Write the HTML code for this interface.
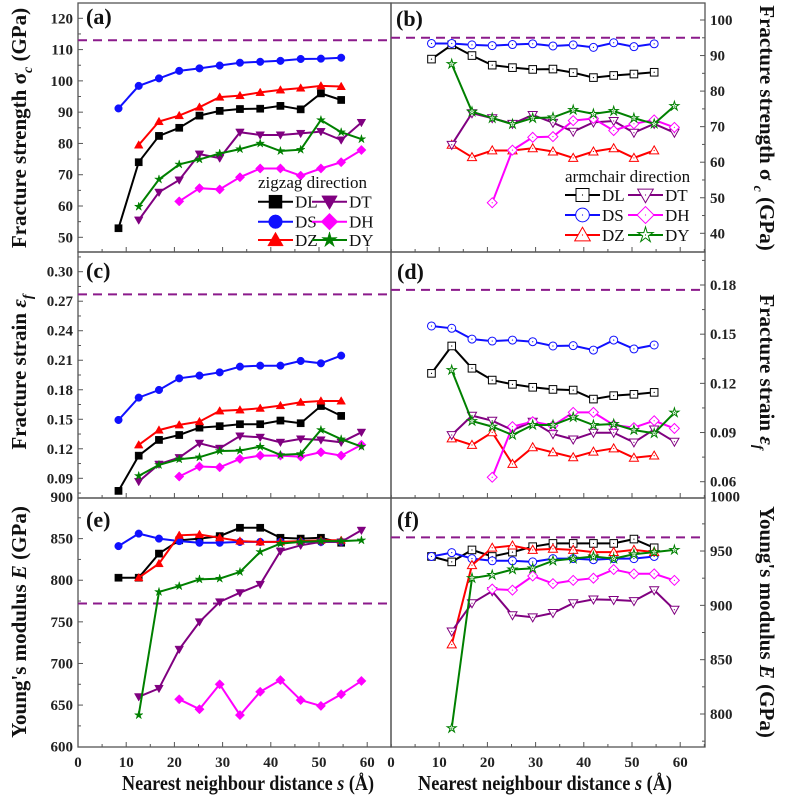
<!DOCTYPE html>
<html><head><meta charset="utf-8"><style>
html,body{margin:0;padding:0;background:#fff;}
svg{display:block;}
svg text{font-family:"Liberation Serif","Times New Roman",serif;}
.tk{font-family:"Liberation Serif",serif;font-weight:bold;font-size:15px;fill:#222;}
.tt{font-family:"Liberation Serif",serif;font-weight:bold;font-size:21px;fill:#111;}
.pl{font-family:"Liberation Serif",serif;font-weight:bold;font-size:22px;fill:#111;}
.lg{font-family:"Liberation Serif",serif;font-size:17px;fill:#111;}
</style></head><body>
<svg id="chart" width="787" height="801" viewBox="0 0 787 801" xmlns="http://www.w3.org/2000/svg" font-family="Liberation Serif, serif">
<g id="axes"></g>
<g id="marks"></g>
<g id="labels">
<text class="tt" transform="translate(26,128) rotate(-90)" text-anchor="middle">Fracture strength σ<tspan font-style="italic" font-size="14" dy="6">c</tspan><tspan dy="-6"> (GPa)</tspan></text>
<text class="tt" transform="translate(26,372) rotate(-90)" text-anchor="middle">Fracture strain <tspan font-style="italic">ε</tspan><tspan font-style="italic" font-size="14" dy="6">f</tspan></text>
<text class="tt" transform="translate(26,622) rotate(-90)" text-anchor="middle">Young's modulus <tspan font-style="italic">E</tspan> (GPa)</text>
<text class="tt" transform="translate(760,128) rotate(90)" text-anchor="middle">Fracture strength σ <tspan font-style="italic" font-size="14" dy="6">c</tspan><tspan dy="-6"> (GPa)</tspan></text>
<text class="tt" transform="translate(760,372) rotate(90)" text-anchor="middle">Fracture strain <tspan font-style="italic">ε</tspan><tspan font-style="italic" font-size="14" dy="6">f</tspan></text>
<text class="tt" transform="translate(760,622) rotate(90)" text-anchor="middle">Young's modulus <tspan font-style="italic">E</tspan> (GPa)</text>
<text class="tt" x="122" y="790" textLength="252" lengthAdjust="spacingAndGlyphs">Nearest neighbour distance <tspan font-style="italic">s</tspan> (Å)</text>
<text class="tt" x="418" y="790" textLength="254" lengthAdjust="spacingAndGlyphs">Nearest neighbour distance <tspan font-style="italic">s</tspan> (Å)</text>
<text class="pl" x="86" y="24">(a)</text>
<text class="pl" x="396" y="26">(b)</text>
<text class="pl" x="86" y="278">(c)</text>
<text class="pl" x="397" y="279">(d)</text>
<text class="pl" x="86" y="527">(e)</text>
<text class="pl" x="397" y="527">(f)</text>
<text class="lg" x="258" y="188">zigzag direction</text>
<text class="lg" x="565" y="182">armchair direction</text>
</g>
<g id="legend"></g>
</svg>
<script>
const sVals = [8.4,12.6,16.8,21,25.2,29.4,33.6,37.8,42,46.2,50.4,54.6,58.8];
const seriesNames = ["DL","DS","DZ","DT","DH","DY"];
const seriesColors = ["#000000","#1010ff","#ff0000","#800080","#ff00ff","#008000"];
const seriesShapes = ["square","circle","tri-up","tri-down","diamond","star"];
const _ = null;
// (a) zigzag fracture strength
const aDL=[52.9,74,82.4,85,88.9,90.4,91,91.1,92,90.9,96,93.9,_];
const aDS=[91.2,98.4,100.8,103.2,104,104.9,105.8,106.1,106.4,107,107.1,107.4,_];
const aDZ=[_,79.5,87,88.9,91.6,94.8,95.3,96.3,97.1,97.7,98.4,98.2,_];
const aDT=[_,55.5,64.4,68.3,76.6,75.3,83.6,82.7,82.7,83.2,83.8,81.1,86.7];
const aDH=[_,_,_,61.5,65.7,65.3,69.2,72,72,69.7,72,74,77.9];
const aDY=[_,59.8,68.5,73.3,74.9,76.8,78.2,80,77.6,78,87.5,83.6,81.4];
// (b) armchair fracture strength
const bDL=[89,93,90,87.3,86.6,86.1,86.2,85.2,83.8,84.4,84.8,85.3,_];
const bDS=[93.4,93.4,93,92.8,93.1,93.3,92.7,93,92.3,93.6,92.5,93.3,_];
const bDZ=[_,64.9,61.4,63.3,63.3,63.9,63,61.2,63,63.9,61.2,63.3,_];
const bDT=[_,64.9,73.8,72.4,70.8,73.3,71.1,68.6,71.2,71.6,68.3,70.8,68.3];
const bDH=[_,_,_,48.6,63.4,67,67.2,71.7,72.3,68.9,70.8,71.9,69.8];
const bDY=[_,87.6,74.2,72.4,70.7,72.4,72.6,74.7,73.6,74.4,72.4,70.8,75.8];
// (c) zigzag fracture strain
const cDL=[0.0772,0.113,0.129,0.134,0.1415,0.143,0.145,0.145,0.1487,0.146,0.1635,0.1534,_];
const cDS=[0.1493,0.172,0.1798,0.1916,0.1944,0.1977,0.2035,0.2045,0.2045,0.2093,0.2069,0.2147,_];
const cDZ=[_,0.124,0.139,0.1443,0.1476,0.1585,0.1595,0.1612,0.1639,0.1673,0.1686,0.1686,_];
const cDT=[_,0.0867,0.1043,0.111,0.1256,0.1205,0.133,0.1317,0.1266,0.13,0.129,0.1266,0.1368];
const cDH=[_,_,_,0.0918,0.102,0.1012,0.1097,0.1131,0.1131,0.112,0.1165,0.1131,0.124];
const cDY=[_,0.0924,0.1036,0.1094,0.1114,0.1178,0.1182,0.1222,0.1138,0.1148,0.1392,0.1297,0.1222];
// (d) armchair fracture strain
const dDL=[0.1261,0.1428,0.1292,0.122,0.1194,0.1176,0.1163,0.1159,0.1104,0.1125,0.1133,0.1145,_];
const dDS=[0.155,0.1536,0.147,0.1458,0.1464,0.1454,0.1428,0.143,0.1403,0.1464,0.141,0.1434,_];
const dDZ=[_,0.0864,0.0824,0.0901,0.0708,0.081,0.0779,0.0749,0.0783,0.0803,0.0746,0.0759,_];
const dDT=[_,0.0885,0.1003,0.0972,0.0915,0.0966,0.0891,0.0858,0.0899,0.0899,0.084,0.0919,0.0844];
const dDH=[_,_,_,0.0627,0.0936,0.0966,0.0942,0.1023,0.1023,0.0946,0.093,0.0972,0.0925];
const dDY=[_,0.1281,0.097,0.0936,0.0885,0.0946,0.0946,0.0993,0.0946,0.0952,0.0915,0.0895,0.1021];
// (e) zigzag Young's modulus
const eDL=[803,803,832,848,850,853,863,863,851,850,851,845,_];
const eDS=[841,856,850,847,845,845,846,846,846,846,846,846,_];
const eDZ=[_,803,820,854,855,851,847,846,846,847,848,848,_];
const eDT=[_,660,670,717,750,774,785,795,835,842,846,846,860];
const eDH=[_,_,_,657,645,675,638,666,680,656,649,663,679];
const eDY=[_,638,786,793,801,802,810,834,844,846,847,847,848];
// (f) armchair Young's modulus
const fDL=[945,940,951,945,949,954,957,957,957,957,961,953,_];
const fDS=[945,948.5,943,941,941,940,943,943,942,943,943,945,_];
const fDZ=[_,864,937,953,955,951,952,951,949,949,951,949,_];
const fDT=[_,876,902,913,891,889,893,902,905.5,905,904,914,896];
const fDH=[_,_,_,915,914,927,920,923,925,933,929,929,923];
const fDY=[_,787,925,928,933,934,941,943,945,943,947,949,951];
// reference (dashed) values
const refVals = [113,95,0.277,0.177,772,962.6];
// tick labels
const ticksA=[50,60,70,80,90,100,110,120];
const ticksB=[40,50,60,70,80,90,100];
const ticksC=[0.09,0.12,0.15,0.18,0.21,0.24,0.27,0.30];
const ticksD=[0.06,0.09,0.12,0.15,0.18];
const ticksE=[600,650,700,750,800,850,900];
const ticksF=[800,850,900,950,1000];
const xTicks=[0,10,20,30,40,50,60];

const NS="http://www.w3.org/2000/svg";
const axesG=document.getElementById('axes'), marksG=document.getElementById('marks'), legG=document.getElementById('legend');
function mk(tag,attrs,parent){const e=document.createElementNS(NS,tag);for(const k in attrs)e.setAttribute(k,attrs[k]);parent.appendChild(e);return e;}
function lin(v1,p1,v2,p2){return v=>p1+(v-v1)*(p2-p1)/(v2-v1);}
const panels=[
 {id:'a',side:'L',x0:78,x1:391,top:3,bot:252,y:lin(50,237.3,120,18.3),data:[aDL,aDS,aDZ,aDT,aDH,aDY],ticks:ticksA,minor:5,fmt:v=>String(v)},
 {id:'b',side:'R',x0:391,x1:705,top:3,bot:252,y:lin(40,233.3,100,20),data:[bDL,bDS,bDZ,bDT,bDH,bDY],ticks:ticksB,minor:5,fmt:v=>String(v)},
 {id:'c',side:'L',x0:78,x1:391,top:252,bot:498,y:lin(0.09,478.3,0.30,271.7),data:[cDL,cDS,cDZ,cDT,cDH,cDY],ticks:ticksC,minor:0.015,fmt:v=>v.toFixed(2)},
 {id:'d',side:'R',x0:391,x1:705,top:252,bot:498,y:lin(0.06,481.7,0.18,285),data:[dDL,dDS,dDZ,dDT,dDH,dDY],ticks:ticksD,minor:0.015,fmt:v=>v.toFixed(2)},
 {id:'e',side:'L',x0:78,x1:391,top:498,bot:747,y:lin(600,746.7,900,497),data:[eDL,eDS,eDZ,eDT,eDH,eDY],ticks:ticksE,minor:25,fmt:v=>String(v)},
 {id:'f',side:'R',x0:391,x1:705,top:498,bot:747,y:lin(800,714,1000,496.7),data:[fDL,fDS,fDZ,fDT,fDH,fDY],ticks:ticksF,minor:25,fmt:v=>String(v)}
];
function marker(shape,cx,cy,r,color,open,parent){
  let e;
  const fill=open?'#fff':color, sw=open?1:0.5;
  if(shape==='square') e=mk('rect',{x:cx-r,y:cy-r,width:2*r,height:2*r,fill:fill,stroke:color,'stroke-width':sw},parent);
  else if(shape==='circle') e=mk('circle',{cx:cx,cy:cy,r:r*1.05,fill:fill,stroke:color,'stroke-width':sw},parent);
  else if(shape==='tri-up') e=mk('polygon',{points:`${cx},${cy-r*1.2} ${cx-r*1.2},${cy+r*0.9} ${cx+r*1.2},${cy+r*0.9}`,fill:fill,stroke:color,'stroke-width':sw},parent);
  else if(shape==='tri-down') e=mk('polygon',{points:`${cx},${cy+r*1.2} ${cx-r*1.2},${cy-r*0.9} ${cx+r*1.2},${cy-r*0.9}`,fill:fill,stroke:color,'stroke-width':sw},parent);
  else if(shape==='diamond') e=mk('polygon',{points:`${cx},${cy-r*1.3} ${cx+r*1.3},${cy} ${cx},${cy+r*1.3} ${cx-r*1.3},${cy}`,fill:fill,stroke:color,'stroke-width':sw},parent);
  else {let p=[];for(let i=0;i<10;i++){const a=-Math.PI/2+i*Math.PI/5;const rr=(i%2?0.45:1.25)*r;p.push((cx+rr*Math.cos(a)).toFixed(1)+','+(cy+rr*Math.sin(a)).toFixed(1));}
    e=mk('polygon',{points:p.join(' '),fill:fill,stroke:color,'stroke-width':sw},parent);}
  if(open) mk('circle',{cx:cx,cy:cy,r:0.6,fill:color},parent);
  return e;
}
panels.forEach((P,pi)=>{
  const xs=s=>P.x0+s*4.82;
  const fr=mk('rect',{x:P.x0,y:P.top,width:P.x1-P.x0,height:P.bot-P.top,fill:'none',stroke:'#555','stroke-width':1.3},axesG);
  
  
  for(let s=0;s<=65;s+=5){const X=xs(s);const L=(s%10===0)?5:3;
    mk('line',{x1:X,y1:P.bot,x2:X,y2:P.bot-L,stroke:'#555','stroke-width':1},axesG);}
  const ax=P.side==='L'?P.x0:P.x1, dir=P.side==='L'?1:-1;
  const t0=P.ticks[0], t1=P.ticks[P.ticks.length-1];
  for(let v=t0-P.minor*4;v<=t1+P.minor*4+1e-9;v+=P.minor){const Y=P.y(v);if(Y<P.top+1||Y>P.bot-1)continue;
    const major=Math.abs(Math.round((v-t0)/P.minor))%2===0;
    mk('line',{x1:ax,y1:Y,x2:ax+dir*(major?5:3),y2:Y,stroke:'#555','stroke-width':1},axesG);}
  P.ticks.forEach(v=>{const Y=P.y(v);
    const t=mk('text',{class:'tk',x:P.side==='L'?ax-5:ax+5,y:Y+5,'text-anchor':P.side==='L'?'end':'start'},axesG);
    
    
    t.textContent=P.fmt(v);});
  if(P.id==='e'||P.id==='f'){xTicks.forEach(s=>{
    const t=mk('text',{class:'tk',x:xs(s),y:P.bot+20,'text-anchor':'middle'},axesG);
    
    
    t.textContent=String(s);});}
  const ry=P.y(refVals[pi]);
  const dl=mk('line',{x1:P.x0,y1:ry,x2:P.x1,y2:ry,stroke:'#8b1a8b','stroke-width':2,'stroke-dasharray':'9,6'},marksG);
  
  
  P.data.forEach((arr,si)=>{
    const g=mk('g',{},marksG);
    
    
    const pts=[];arr.forEach((v,i)=>{if(v!==null)pts.push([xs(sVals[i]),P.y(v)]);});
    const ln=mk('polyline',{points:pts.map(p=>p[0].toFixed(1)+','+p[1].toFixed(1)).join(' '),fill:'none',stroke:seriesColors[si],'stroke-width':2},g);
    
    
    pts.forEach(p=>{const m=marker(seriesShapes[si],p[0],p[1],P.side==='L'?3.6:3.8,seriesColors[si],P.side==='R',g);
      
      });
  });
});
const legL={cols:[258,312],w:35,ys:[201.7,221.7,240],r:6.5,open:false};
const legR={cols:[565,628],w:35,ys:[195,215,235],r:6.5,open:true};
[legL,legR].forEach((L,li)=>{
  seriesNames.forEach((nm,si)=>{
    const col=si<3?0:1,row=si%3;
    const x=L.cols[col],y=L.ys[row];
    const g=mk('g',{},legG);
    
    
    mk('line',{x1:x,y1:y,x2:x+L.w,y2:y,stroke:seriesColors[si],'stroke-width':2},g);
    marker(seriesShapes[si],x+L.w/2,y,L.r,seriesColors[si],L.open,g);
    const t=mk('text',{class:'lg',x:x+L.w+2,y:y+6},g);
    t.textContent=nm;
  });
});
</script>
</body></html>
